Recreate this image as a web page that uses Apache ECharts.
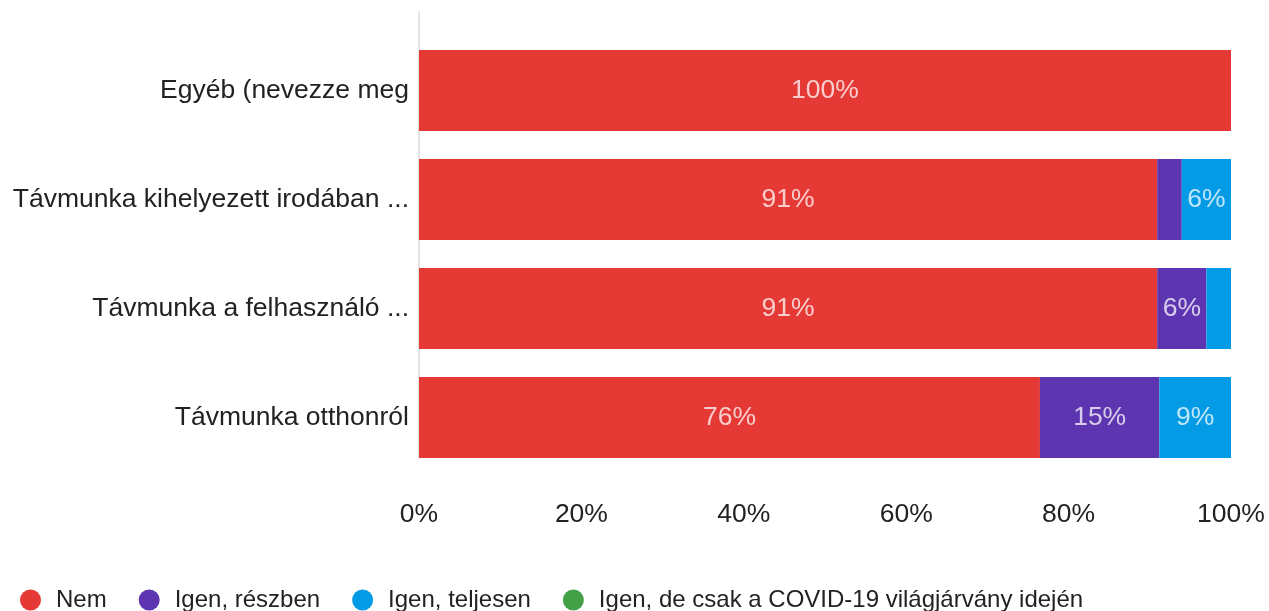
<!DOCTYPE html>
<html>
<head>
<meta charset="utf-8">
<script src="https://cdn.jsdelivr.net/npm/echarts@6/dist/echarts.min.js"></script>
<style>
  html, body { margin: 0; padding: 0; background: #fff; }
  #chart { width: 1269px; height: 611px; }
</style>
</head>
<body>
<div id="chart"></div>
<script>
const categories = ['Egyéb (nevezze meg', 'Távmunka kihelyezett irodában ...', 'Távmunka a felhasználó ...', 'Távmunka otthonról']
const seriesNames = ['Nem', 'Igen, részben', 'Igen, teljesen', 'Igen, de csak a COVID-19 világjárvány idején']
const nem = [100, 90.91, 90.91, 76.47]
const reszben = [0, 3.03, 6.06, 14.71]
const teljesen = [0, 6.06, 3.03, 8.82]
const covid = [0, 0, 0, 0]
const xTicks = [0, 20, 40, 60, 80, 100]

const colors = ['#e53935', '#5e35b1', '#039be5', '#43a047']
const font = 'Liberation Sans, Arial, sans-serif'

const chart = echarts.init(document.getElementById('chart'), null, { renderer: 'canvas' })

const barLabel = {
  show: true,
  color: 'rgba(255,255,255,0.75)',
  fontFamily: font,
  fontSize: 26.5,
  formatter: (p) => p.value >= 5 ? Math.round(p.value) + '%' : '',
}

chart.setOption({
  backgroundColor: '#ffffff',
  animation: false,
  color: colors,
  legend: {
    left: 20,
    top: 588,
    padding: 0,
    icon: 'circle',
    itemWidth: 21,
    itemHeight: 21,
    itemGap: 32,
    textStyle: { fontFamily: font, fontSize: 24, color: '#222', padding: [0, 0, 0, 10] },
    data: seriesNames,
  },
  grid: [
    { left: 419, right: 38, top: 36, bottom: 139 },
    { left: 419, right: 38, top: 12, bottom: 153 },
  ],
  xAxis: [
    {
      type: 'value',
      gridIndex: 0,
      min: 0,
      max: 100,
      interval: 20,
      axisLine: { show: false },
      axisTick: { show: false },
      splitLine: { show: false },
      axisLabel: {
        margin: 29,
        fontFamily: font,
        fontSize: 26.5,
        color: '#222',
        formatter: (v) => xTicks.includes(v) ? v + '%' : '',
      },
    },
    { type: 'value', gridIndex: 1, show: false },
  ],
  yAxis: [
    {
      type: 'category',
      gridIndex: 0,
      inverse: true,
      data: categories,
      axisLine: { show: false },
      axisTick: { show: false },
      axisLabel: { margin: 10, fontFamily: font, fontSize: 26.5, color: '#222' },
    },
    {
      type: 'value',
      gridIndex: 1,
      axisLine: { show: true, lineStyle: { color: '#e3e3e3', width: 2 } },
      axisTick: { show: false },
      axisLabel: { show: false },
      splitLine: { show: false },
    },
  ],
  series: [nem, reszben, teljesen, covid].map((d, i) => ({
    name: seriesNames[i],
    type: 'bar',
    stack: 'total',
    barWidth: 81,
    xAxisIndex: 0,
    yAxisIndex: 0,
    label: barLabel,
    data: d,
  })),
})
</script>
</body>
</html>
